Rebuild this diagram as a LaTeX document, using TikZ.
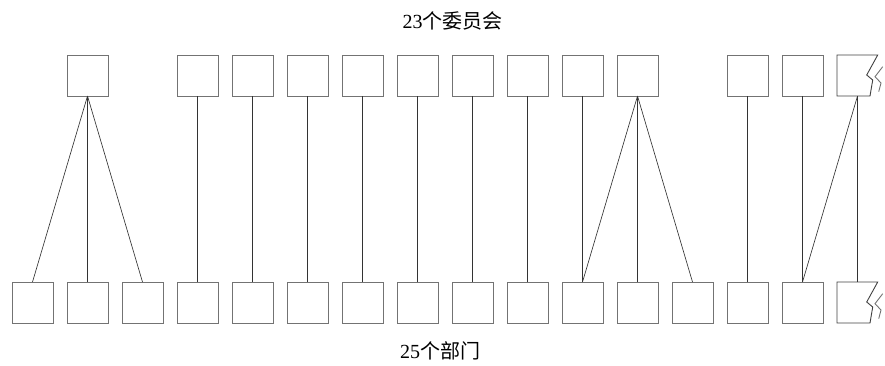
\documentclass[tikz,border=0pt]{standalone}
\usepackage{fontspec}
\setmainfont{Liberation Serif}
\newfontfamily\cjk{Noto Sans CJK SC}
\begin{document}
\begin{tikzpicture}[x=1pt,y=-1pt,
  box/.style={draw=black!55,line width=0.9pt,minimum size=41pt,inner sep=0pt,outer sep=0pt},
  ghost/.style={minimum size=41pt,inner sep=0pt,outer sep=0pt},
  brk/.style={draw=black!75,line width=0.9pt},
  conn/.style={draw=black!80,line width=0.65pt},
  lbl/.style={inner sep=0pt,font=\fontsize{20}{24}\selectfont}]
\useasboundingbox (0,0) rectangle (885,365);
% labels
\node[lbl] (top) at (452.5,20.5) {23{\cjk 个委员会}};
\node[lbl] (bot) at (440,351) {25{\cjk 个部门}};
% bottom boxes
\foreach \k in {0,...,14} {
  \node[box] (b\k) at ({32.5+55*\k},302.5) {};
}
\node[ghost] (b15) at ({32.5+55*15},302.5) {};
% top boxes
\foreach \k in {1,3,4,5,6,7,8,9,10,11,13,14} {
  \node[box] (t\k) at ({32.5+55*\k},75.5) {};
}
\node[ghost] (t15) at ({32.5+55*15},75.5) {};
% broken boxes
\foreach \n in {t15,b15} {
  \draw[brk] (\n.north west) -- ++(40.7,0) -- ++(-11,20) -- ++(6,5) -- ++(-2.7,16) -- (\n.south west) -- cycle;
  \draw[brk,draw=black!55] ([xshift=45.7pt,yshift=-11.7pt]\n.north west) -- ++(-7.7,10) -- ++(6,6.3) -- ++(-2.3,8.7);
}
% connectors
\foreach \j in {0,1,2} { \draw[conn] (t1.south) -- (b\j.north); }
\foreach \k in {3,...,10} { \draw[conn] (t\k.south) -- (b\k.north); }
\foreach \j in {10,11,12} { \draw[conn] (t11.south) -- (b\j.north); }
\draw[conn] (t13.south) -- (b13.north);
\draw[conn] (t14.south) -- (b14.north);
\draw[conn] (t15.south) -- (b14.north);
\draw[conn] (t15.south) -- (b15.north);
\end{tikzpicture}
\end{document}
